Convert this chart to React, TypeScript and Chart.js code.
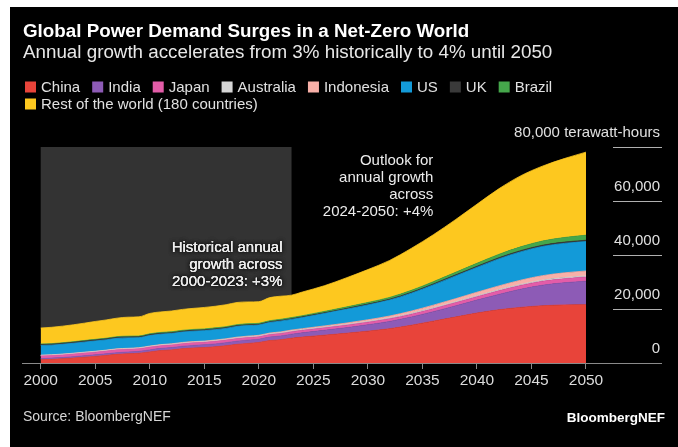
import React, { useEffect, useRef } from 'react';
import { Chart, registerables } from 'chart.js';

Chart.register(...registerables);

// ---------- DATA (terawatt-hours) ----------
const years = [
  2000, 2001, 2002, 2003, 2004, 2005, 2006, 2007, 2008, 2009, 2010, 2011,
  2012, 2013, 2014, 2015, 2016, 2017, 2018, 2019, 2020, 2021, 2022, 2023,
  2024, 2026, 2028, 2030, 2032, 2034, 2036, 2038, 2040, 2042, 2044, 2046, 2048, 2050,
];

const china = [
  1200, 1350, 1550, 1850, 2150, 2450, 2800, 3200, 3400, 3600, 4100, 4600,
  4850, 5300, 5550, 5700, 6000, 6400, 6900, 7250, 7600, 8300, 8600, 9200,
  9600, 10300, 11000, 11800, 12700, 14000, 15500, 17000, 18500, 19700, 20600, 21200, 21500, 21600,
];
const india = [
  450, 460, 480, 500, 530, 560, 600, 640, 670, 710, 760, 820,
  860, 900, 970, 1020, 1070, 1120, 1190, 1220, 1200, 1300, 1400, 1480,
  1580, 1800, 2050, 2350, 2700, 3050, 3500, 4100, 4800, 5700, 6700, 7600, 8200, 8700,
];
const japan = [
  950, 940, 960, 960, 990, 1000, 1010, 1040, 1000, 960, 1020, 980,
  970, 970, 950, 940, 950, 960, 960, 940, 920, 940, 930, 910,
  910, 920, 930, 950, 990, 1040, 1100, 1170, 1250, 1330, 1400, 1460, 1500, 1520,
];
const australia = [
  200, 205, 210, 215, 220, 225, 228, 232, 235, 235, 240, 240,
  240, 240, 240, 245, 250, 255, 258, 260, 260, 262, 265, 268,
  270, 280, 290, 300, 315, 330, 345, 360, 375, 390, 405, 420, 430, 440,
];
const indonesia = [
  90, 95, 100, 105, 115, 120, 125, 135, 140, 150, 160, 170,
  185, 200, 210, 220, 235, 245, 265, 280, 275, 290, 310, 330,
  350, 420, 500, 600, 700, 830, 980, 1130, 1280, 1420, 1550, 1660, 1750, 1820,
];
const us = [
  3600, 3550, 3620, 3660, 3720, 3790, 3800, 3880, 3860, 3720, 3880, 3860,
  3800, 3840, 3860, 3840, 3850, 3830, 3970, 3900, 3800, 3900, 4000, 3950,
  4100, 4600, 5100, 5500, 5900, 6600, 7500, 8400, 9200, 10000, 10500, 10800, 10900, 10900,
];
const uk = [
  370, 375, 375, 380, 380, 380, 375, 370, 365, 345, 350, 340,
  340, 335, 320, 320, 315, 310, 310, 305, 290, 295, 290, 285,
  290, 300, 315, 330, 345, 360, 380, 400, 420, 440, 460, 475, 490, 500,
];
const brazil = [
  200, 200, 205, 215, 230, 240, 250, 265, 280, 285, 300, 310,
  320, 330, 340, 340, 340, 350, 355, 365, 365, 380, 390, 400,
  420, 470, 530, 590, 650, 720, 820, 960, 1100, 1250, 1400, 1550, 1700, 1850,
];
const restOfWorld = [
  5900, 6050, 6150, 6270, 6420, 6620, 6760, 6850, 7020, 7080, 7550, 7600,
  7700, 7740, 7800, 7950, 8000, 8120, 8200, 8100, 8000, 8550, 8550, 8300,
  8780, 9510, 10785, 12180, 13700, 15570, 17375, 19480, 21875, 24270, 26285, 27735, 29230, 30770,
];

const seriesNames = [
  'China', 'India', 'Japan', 'Australia', 'Indonesia', 'US', 'UK', 'Brazil',
  'Rest of the world (180 countries)',
];
const seriesColors = [
  '#e8443a', '#8d5bb6', '#e35ca8', '#d6d6d6', '#f8b0a8', '#139ad8', '#3a3a3a', '#45a74b', '#fdc81f',
];

const xTickYears = [2000, 2005, 2010, 2015, 2020, 2025, 2030, 2035, 2040, 2045, 2050];
const yTickValues = [0, 20000, 40000, 60000, 80000];
const yUnit = 'terawatt-hours';
const historyStart = 2000;
const historyEnd = 2023;

const titleText = 'Global Power Demand Surges in a Net-Zero World';
const subtitleText = 'Annual growth accelerates from 3% historically to 4% until 2050';
const historyNote = ['Historical annual', 'growth across', '2000-2023: +3%'];
const outlookNote = ['Outlook for', 'annual growth', 'across', '2024-2050: +4%'];
const sourceText = 'Source: BloombergNEF';
const brandText = 'BloombergNEF';

const FONT = "'Liberation Sans', Arial, Helvetica, sans-serif";

const overlayPlugin = {
  id: 'overlay',
  beforeDatasetsDraw(chart: any) {
    const { ctx } = chart;
    const x = chart.scales.x;
    const y = chart.scales.y;
    const x0 = x.getPixelForValue(historyStart);
    const x1 = x.getPixelForValue(historyEnd);
    const yTop = y.getPixelForValue(yTickValues[yTickValues.length - 1]);
    const yBot = y.getPixelForValue(0);
    ctx.save();
    ctx.fillStyle = '#333333';
    ctx.fillRect(x0, yTop, x1 - x0, yBot - yTop);
    ctx.restore();
  },
  afterDatasetsDraw(chart: any) {
    const { ctx, chartArea } = chart;
    const x = chart.scales.x;
    ctx.save();
    ctx.font = `15px ${FONT}`;
    ctx.textAlign = 'right';
    ctx.textBaseline = 'middle';
    const drawHalo = (t: string, px: number, py: number) => {
      ctx.shadowColor = 'rgba(0,0,0,0.9)';
      ctx.shadowBlur = 4;
      ctx.fillStyle = '#ececec';
      ctx.fillText(t, px, py);
      ctx.fillText(t, px, py);
      ctx.shadowBlur = 0;
      ctx.fillText(t, px, py);
    };
    const hx = x.getPixelForValue(historyEnd) - 9;
    historyNote.forEach((t, i) => drawHalo(t, hx, chartArea.top + 101 + i * 17));
    const ox = x.getPixelForValue(2036);
    ctx.shadowBlur = 0;
    ctx.fillStyle = '#ececec';
    outlookNote.forEach((t, i) => ctx.fillText(t, ox, chartArea.top + 14 + i * 17));
    ctx.restore();
  },
  afterDraw(chart: any) {
    const { ctx, chartArea } = chart;
    const y = chart.scales.y;
    ctx.save();
    // Title & subtitle
    ctx.textAlign = 'left';
    ctx.textBaseline = 'alphabetic';
    ctx.fillStyle = '#ffffff';
    ctx.font = `bold 18.8px ${FONT}`;
    ctx.fillText(titleText, 13, 30);
    ctx.fillStyle = '#e8e8e8';
    ctx.font = `18.8px ${FONT}`;
    ctx.fillText(subtitleText, 13, 51);

    // Legend
    ctx.font = `15px ${FONT}`;
    ctx.textBaseline = 'middle';
    let lx = 15;
    const row1 = 80;
    const row2 = 97;
    seriesNames.forEach((name, i) => {
      const rowY = i < 8 ? row1 : row2;
      if (i === 8) lx = 15;
      ctx.fillStyle = seriesColors[i];
      ctx.fillRect(lx, rowY - 5.5, 11, 11);
      ctx.fillStyle = '#e0e0e0';
      ctx.fillText(name, lx + 16, rowY + 0.5);
      lx += 16 + ctx.measureText(name).width + 12;
    });

    // Right-side value labels with short gridlines
    const gx0 = chartArea.right - 48;
    const gx1 = chartArea.right + 1;
    ctx.strokeStyle = '#b0b0b0';
    ctx.lineWidth = 1;
    ctx.fillStyle = '#e0e0e0';
    ctx.font = `15px ${FONT}`;
    ctx.textAlign = 'right';
    yTickValues.forEach((v, i) => {
      const py = Math.round(y.getPixelForValue(v)) + 0.5;
      if (v !== 0) {
        ctx.beginPath();
        ctx.moveTo(gx0, py);
        ctx.lineTo(gx1, py);
        ctx.stroke();
      }
      let label = v.toLocaleString('en-US');
      if (i === yTickValues.length - 1) label += ' ' + yUnit;
      ctx.fillText(label, gx1 - 2, py - 15);
    });

    // Footer
    ctx.textAlign = 'left';
    ctx.fillStyle = '#d6d6d6';
    ctx.font = `14px ${FONT}`;
    ctx.fillText(sourceText, 13, 410);
    ctx.textAlign = 'right';
    ctx.fillStyle = '#ffffff';
    ctx.font = `bold 13.5px ${FONT}`;
    ctx.fillText(brandText, 655, 411);
    ctx.restore();
  },
};

export default function App() {
  const ref = useRef<HTMLCanvasElement>(null);
  useEffect(() => {
    const canvas = ref.current;
    if (!canvas) return;
    const seriesData = [china, india, japan, australia, indonesia, us, uk, brazil, restOfWorld];
    const datasets = seriesData.map((d, i) => ({
      label: seriesNames[i],
      data: years.map((yr, j) => ({ x: yr, y: d[j] })),
      backgroundColor: seriesColors[i],
      borderColor: seriesColors[i],
      borderWidth: 0.8,
      pointRadius: 0,
      fill: i === 0 ? 'origin' : '-1',
      cubicInterpolationMode: 'monotone' as const,
    }));
    const chart = new Chart(canvas, {
      type: 'line',
      data: { datasets },
      options: {
        responsive: false,
        animation: false,
        devicePixelRatio: 1,
        layout: { padding: { left: 12, right: 17, top: 140, bottom: 54 } },
        plugins: { legend: { display: false }, tooltip: { enabled: false } },
        scales: {
          x: {
            type: 'linear',
            min: 1998.285,
            max: 2056.877,
            z: 1,
            afterBuildTicks: (s: any) => {
              s.ticks = xTickYears.map((v) => ({ value: v }));
            },
            afterFit: (s: any) => {
              s.height = 30;
            },
            grid: {
              display: true,
              drawOnChartArea: false,
              drawTicks: true,
              tickLength: 6,
              color: '#8a8a8a',
              lineWidth: 1,
            },
            border: { display: true, color: '#8a8a8a', width: 1 },
            ticks: {
              color: '#dcdcdc',
              font: { family: FONT, size: 15.5 },
              padding: 2,
              maxRotation: 0,
              autoSkip: false,
              callback: (v: any) => String(v),
            },
          },
          y: { stacked: true, min: 0, max: 80000, display: false },
        },
      },
      plugins: [overlayPlugin],
    } as any);
    return () => chart.destroy();
  }, []);

  return (
    <div
      style={{
        position: 'absolute',
        left: 10,
        top: 7,
        width: 668,
        height: 440,
        background: '#000',
      }}
    >
      <canvas ref={ref} width={668} height={440} style={{ display: 'block', background: '#000' }} />
    </div>
  );
}
